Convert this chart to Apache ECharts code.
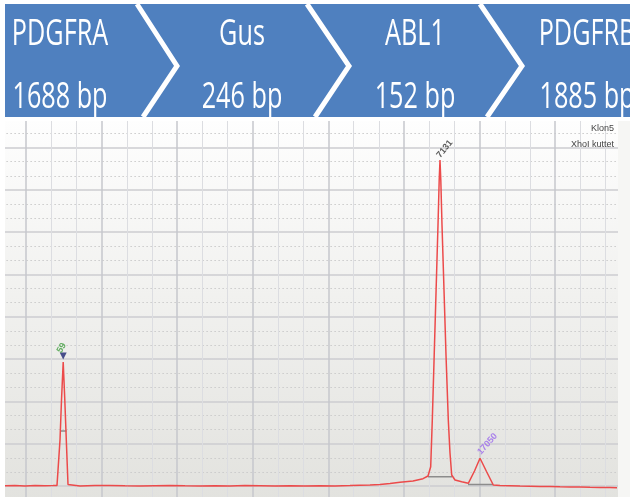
<!DOCTYPE html>
<html><head><meta charset="utf-8">
<script src="https://cdn.jsdelivr.net/npm/echarts@6/dist/echarts.min.js"></script>
<style>html,body{margin:0;padding:0;background:#fff}#c{width:630px;height:497px}</style>
</head><body><div id="c"></div>
<script>
// Electropherogram trace (x: scan position, y: signal RFU)
const traceX = [-21,-11,-1,9,19,27,31,32.3,34,35.5,37.2,38.8,40.3,42,43.5,54,69,84,99,114,129,144,159,174,189,204,219,234,249,264,279,294,309,324,334,344,354,364,374,387,397,402,404.7,406.3,408.2,410.1,412,413.2,414,414.8,416,418,420,422.3,424,425.7,429,435.7,442.3,443.3,448.5,454,460.5,467.3,474,484,494,504,514,524,534,544,554,564,574,584,591];
const traceY = [5,12,2,9,7,9,14,35,1087,2033,2931,2033,1087,35,9,2,9,14,5,0,7,12,5,0,7,2,9,5,-2,5,2,7,2,9,17,24,35,59,87,118,173,236,456,1560,3097,4633,6170,7234,7707,7234,6170,4633,3097,1560,780,260,142,102,64,47,355,655,343,24,9,5,0,-4,-9,-12,-19,-21,-24,-30,-33,-36,-40];

// Peak annotations
const markerX = [37.2];
const markerY = [3073];
const peakLabels = ['59', '7131', '17050'];
const peakLabelX = [35.7, 418.7, 461.5];
const peakLabelY = [3262, 7967, 993];
const grayMarkX = [[34.5, 40.5], [402, 426], [442, 467]];
const grayMarkY = [[1300, 1300], [220, 220], [35, 35]];

// Banner and notes
const geneNames = ['PDGFRA', 'Gus', 'ABL1', 'PDGFRB'];
const geneSizes = ['1688 bp', '246 bp', '152 bp', '1885 bp'];
const sampleNotes = ['Klon5', 'XhoI kuttet'];

const chart = echarts.init(document.getElementById('c'), null, {renderer: 'canvas'});

const geneCX = [60, 242, 415, 587];
const sepPts = [
  [[137, 4], [177, 66], [143, 117]],
  [[307, 4], [349, 66], [315, 117]],
  [[480, 4], [522, 66], [487, 117]]
];
const graphics = [
  {type: 'rect', z: 100, shape: {x: 0, y: 0, width: 630, height: 121}, style: {fill: '#ffffff'}},
  {type: 'rect', z: 100, shape: {x: 0, y: 117, width: 5, height: 380}, style: {fill: '#ffffff'}},
  {type: 'rect', z: 100, shape: {x: 618, y: 121, width: 12, height: 376}, style: {fill: '#f6f6f4'}},
  {type: 'rect', z: 101, shape: {x: 5, y: 4, width: 625, height: 113}, style: {fill: '#4f80bf'}}
];
sepPts.forEach(p => graphics.push({type: 'polyline', z: 102, shape: {points: p}, style: {stroke: '#ffffff', lineWidth: 5, fill: null}}));
geneNames.forEach((t, i) => {
  graphics.push({type: 'text', z: 103, x: geneCX[i], y: 35, scaleX: 0.7, style: {text: t, fill: '#ffffff', font: '36px "Open Sans", sans-serif', textAlign: 'center', textVerticalAlign: 'middle'}});
  graphics.push({type: 'text', z: 103, x: geneCX[i], y: 98, scaleX: 0.7, style: {text: geneSizes[i], fill: '#ffffff', font: '36px "Open Sans", sans-serif', textAlign: 'center', textVerticalAlign: 'middle'}});
});
sampleNotes.forEach((t, i) => {
  graphics.push({type: 'text', z: 103, x: 614, y: 129 + i * 16, style: {text: t, fill: '#444444', font: '9px "Liberation Sans", sans-serif', textAlign: 'right', textVerticalAlign: 'middle'}});
});

const labelColors = ['#3c9c3c', '#333333', '#9a66ee'];
const labelRot = [60, 50, 48];

const series = [
  {type: 'line', data: traceX.map((x, i) => [x, traceY[i]]), symbol: 'none', silent: true, z: 5,
   lineStyle: {color: '#ec4a4a', width: 1.5}},
  {type: 'scatter', data: markerX.map((x, i) => [x, markerY[i]]), symbol: 'triangle', symbolRotate: 180, symbolSize: [7, 7],
   itemStyle: {color: '#1d2672'}, silent: true, z: 6},
  {type: 'scatter', symbolSize: 0, silent: true, z: 7,
   data: peakLabelX.map((x, i) => ({value: [x, peakLabelY[i]], name: peakLabels[i],
     label: {show: true, position: 'inside', formatter: '{b}', rotate: labelRot[i], color: labelColors[i], fontSize: 9, fontWeight: 'bold', fontFamily: 'Liberation Sans'}}))}
];
grayMarkX.forEach((xs, k) => series.push({type: 'line', data: xs.map((x, i) => [x, grayMarkY[k][i]]), symbol: 'none', silent: true, z: 4,
  lineStyle: {color: '#8c8c8c', width: 1.5}}));

chart.setOption({
  animation: false,
  grid: {left: -49.6, right: -0.8, top: 105.3, bottom: -31.3, show: true, borderWidth: 0, outerBoundsMode: 'none',
    backgroundColor: new echarts.graphic.LinearGradient(0, 0, 0, 1, [
      {offset: 0, color: '#ffffff'}, {offset: 0.45, color: '#f1f1ef'}, {offset: 1, color: '#e0e0dc'}])},
  xAxis: {type: 'value', min: -75.6, max: 604.8, interval: 75.6,
    axisLine: {show: false}, axisTick: {show: false}, axisLabel: {show: false},
    splitLine: {show: true, lineStyle: {color: '#c6c7cd', width: 1.5}},
    minorTick: {show: false, splitNumber: 3},
    minorSplitLine: {show: true, lineStyle: {color: '#dcdde1', width: 1}}},
  yAxis: {type: 'value', min: -1000, max: 9000, interval: 1000,
    axisLine: {show: false}, axisTick: {show: false}, axisLabel: {show: false},
    splitLine: {show: true, lineStyle: {color: '#cdcdd1', width: 1.5}},
    minorTick: {show: false, splitNumber: 3},
    minorSplitLine: {show: true, lineStyle: {color: '#cbcbcb', width: 1, type: [1.5, 2.5]}}},
  graphic: graphics,
  series: series
});
</script></body></html>
